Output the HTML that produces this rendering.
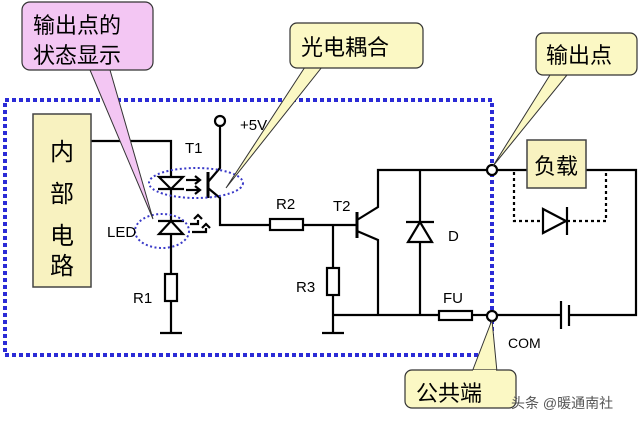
<!DOCTYPE html>
<html><head><meta charset="utf-8"><style>
html,body{margin:0;padding:0;background:#fff}
svg{display:block}
text{font-family:"Liberation Sans","Noto Sans CJK SC",sans-serif}
</style></head><body>
<svg width="640" height="423" viewBox="0 0 640 423" xmlns="http://www.w3.org/2000/svg">
<rect width="640" height="423" fill="#fff"/>
<!-- dotted boundary -->
<rect x="5" y="100" width="487" height="255" fill="none" stroke="#2b2bd6" stroke-width="4" stroke-dasharray="4,3"/>
<g stroke="#000" stroke-width="2.2" fill="none">
<!-- internal box wire -->
<polyline points="91,141 171,141 171,333"/>
<line x1="160" y1="333" x2="182" y2="333"/>
<!-- opto LED -->
<polygon points="159,177 183,177 171,189" fill="#fff"/>
<line x1="158" y1="189" x2="184" y2="189"/>
<!-- status LED -->
<polygon points="159,234 183,234 171,221" fill="#fff"/>
<line x1="158" y1="221" x2="184" y2="221"/>
<!-- arrows -->
<line x1="186" y1="180" x2="199" y2="180"/><polyline points="195,176 200,180 195,184"/>
<line x1="186" y1="190" x2="199" y2="190"/><polyline points="195,186 200,190 195,194"/>
<polyline points="190,224 198,224 198,220"/><polyline points="194,219 198,215 202,219"/>
<polyline points="192,232 206,232 206,228"/><polyline points="202,228 206,224 210,228"/>
<!-- R1 -->
<rect x="165" y="274" width="12" height="27" fill="#fff"/>
<!-- T1 -->
<line x1="208" y1="172" x2="208" y2="198" stroke-width="3"/>
<polyline points="208,182 220,168 220,126"/>
<circle cx="220" cy="121" r="5"/>
<polyline points="208,188 220,198 220,225 270,225"/>
<rect x="270" y="219" width="33" height="11" fill="#fff"/>
<line x1="303" y1="225" x2="357" y2="225"/>
<!-- R3 -->
<line x1="333" y1="225" x2="333" y2="333"/>
<rect x="327" y="268" width="12" height="27" fill="#fff"/>
<line x1="322" y1="333" x2="344" y2="333"/>
<!-- T2 -->
<line x1="357" y1="212" x2="357" y2="238" stroke-width="3"/>
<polyline points="357,220 378,207 378,170 487,170"/>
<polyline points="357,231 378,240 378,315"/>
<!-- D -->
<line x1="420" y1="170" x2="420" y2="315"/>
<polygon points="408,242 432,242 420,222" fill="#fff"/>
<line x1="406" y1="222" x2="434" y2="222"/>
<!-- bottom -->
<line x1="333" y1="315" x2="439" y2="315"/>
<rect x="439" y="311" width="33" height="9" fill="#fff"/>
<line x1="472" y1="315" x2="487" y2="315"/>
<circle cx="492" cy="170" r="5" fill="#fff"/>
<circle cx="492" cy="316" r="5" fill="#fff"/>
<line x1="497" y1="170" x2="527" y2="170"/>
<polyline points="586,170 636,170 636,315 570,315"/>
<line x1="497" y1="315" x2="560" y2="315"/>
<line x1="561" y1="301" x2="561" y2="329"/>
<line x1="569" y1="305" x2="569" y2="326"/>
<!-- dotted load diode -->
<polyline points="514,172 514,221 606,221 606,172" stroke-dasharray="3,3"/>
<polygon points="543,209 543,233 566,221" fill="#fff"/>
<line x1="567" y1="207" x2="567" y2="235"/>
</g>
<!-- ellipses -->
<ellipse cx="196" cy="183" rx="47" ry="15" fill="none" stroke="#3a3ac8" stroke-width="2" stroke-dasharray="2,2.5"/>
<ellipse cx="162" cy="231" rx="27" ry="17" fill="none" stroke="#3a3ac8" stroke-width="2" stroke-dasharray="2,2.5"/>
<!-- boxes -->
<rect x="33" y="114" width="58" height="173" fill="#f8f2c0" stroke="#444" stroke-width="1.5"/>
<text x="62" y="160" font-size="24" text-anchor="middle">内</text>
<text x="62" y="202" font-size="24" text-anchor="middle">部</text>
<text x="62" y="244" font-size="24" text-anchor="middle">电</text>
<text x="62" y="274" font-size="24" text-anchor="middle">路</text>
<rect x="527" y="140" width="59" height="48" fill="#f8f2c0" stroke="#444" stroke-width="1.5"/>
<text x="556" y="174" font-size="22" text-anchor="middle">负载</text>
<!-- labels -->
<g font-size="15" fill="#000">
<text x="185" y="153">T1</text>
<text x="240" y="130">+5V</text>
<text x="107" y="237">LED</text>
<text x="133" y="303">R1</text>
<text x="276" y="209">R2</text>
<text x="333" y="211">T2</text>
<text x="296" y="292">R3</text>
<text x="448" y="241">D</text>
<text x="443" y="303">FU</text>
<text x="508" y="348" font-size="14">COM</text>
</g>
<!-- callouts -->
<path d="M90,70 L153,219 L110,70 Z" fill="#f3c6f3" stroke="#333" stroke-width="1"/>
<rect x="22" y="2" width="131" height="68" rx="8" fill="#f3c6f3" stroke="#333" stroke-width="1.2"/>
<text x="33" y="33" font-size="22">输出点的</text>
<text x="33" y="63" font-size="22">状态显示</text>
<path d="M305,67 L226,188 L322,67 Z" fill="#fbf8c4" stroke="#333" stroke-width="1"/>
<rect x="290" y="23" width="133" height="45" rx="7" fill="#fbf8c4" stroke="#333" stroke-width="1.2"/>
<text x="301" y="55" font-size="22">光电耦合</text>
<path d="M550,75 L493,166 L567,75 Z" fill="#fbf8c4" stroke="#333" stroke-width="1"/>
<rect x="536" y="33" width="101" height="42" rx="7" fill="#fbf8c4" stroke="#333" stroke-width="1.2"/>
<text x="546" y="63" font-size="22">输出点</text>
<path d="M472,372 L492,320 L497,372 Z" fill="#fbf8c4" stroke="#333" stroke-width="1"/>
<rect x="405" y="370" width="111" height="38" rx="7" fill="#fbf8c4" stroke="#333" stroke-width="1.2"/>
<path d="M473,371 L496,371" stroke="#fbf8c4" stroke-width="2"/>
<text x="416" y="401" font-size="22">公共端</text>
<text x="511" y="408" font-size="14" fill="#555">头条 @暖通南社</text>
</svg>
</body></html>
